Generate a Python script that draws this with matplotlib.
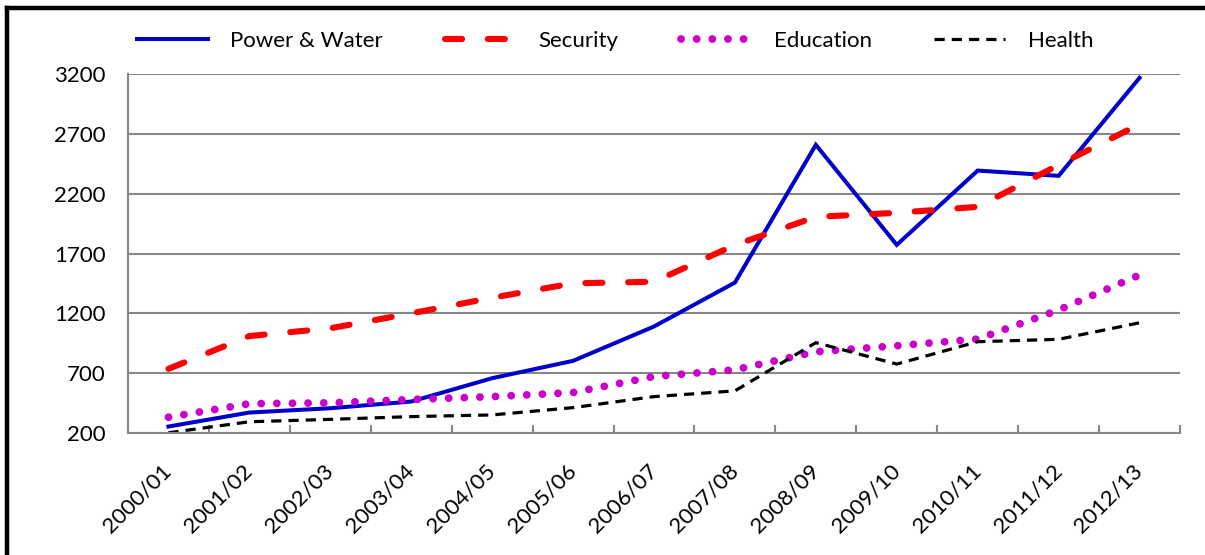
import matplotlib.pyplot as plt
from matplotlib.lines import Line2D
import numpy as np

plt.rcParams['font.family'] = ['Lato', 'DejaVu Sans']

years = ['2000/01', '2001/02', '2002/03', '2003/04', '2004/05', '2005/06', '2006/07',
         '2007/08', '2008/09', '2009/10', '2010/11', '2011/12', '2012/13']
power_water = [254, 371, 407, 463, 658, 803, 1090, 1457, 2608, 1772, 2393, 2349, 3168]
security = [736, 1010, 1075, 1200, 1330, 1451, 1464, 1771, 2006, 2040, 2090, 2440, 2780]
education = [332, 445, 452, 480, 504, 538, 672, 728, 879, 929, 985, 1228, 1520]
health = [202, 294, 314, 337, 351, 412, 504, 552, 955, 776, 963, 983, 1121]
yticks = [200, 700, 1200, 1700, 2200, 2700, 3200]

W, H = 1205, 555
fig = plt.figure(figsize=(W / 100, H / 100), dpi=100)
ax = fig.add_axes([128 / W, 1 - 433 / H, (1180 - 128) / W, (433 - 74) / H])

x = np.arange(len(years))
ax.plot(x, power_water, color='#0000CC', lw=2.9, solid_joinstyle='miter',
        label='Power & Water')
ax.plot(x, security, color='#FF0000', lw=4.4, dashes=(2.8, 4.2),
        dash_capstyle='round', label='Security')
ax.plot(x, education, color='#CC00CC', lw=5.6, dashes=(0.01, 2.0),
        dash_capstyle='round', label='Education')
ax.plot(x, health, color='black', lw=2.3, dashes=(3.2, 2.2), label='Health')

ax.set_xlim(-0.5, len(years) - 0.5)
ax.set_ylim(200, 3200)
ax.set_yticks(yticks)
ax.set_yticklabels([str(v) for v in yticks], fontsize=16)
ax.tick_params(axis='y', length=0, pad=16)
ax.yaxis.grid(True, color='#878787', lw=1.5)
ax.set_axisbelow(True)

# category labels at centres, tick marks at the boundaries
ax.set_xticks(x)
ax.set_xticklabels(years, fontsize=16, rotation=45, ha='right', va='center',
                   rotation_mode='anchor')
ax.tick_params(axis='x', which='major', length=0, pad=25)
ax.set_xticks(np.arange(-0.5, len(years)), minor=True)
ax.tick_params(axis='x', which='minor', direction='in', length=6, width=1.5,
               color='#878787')

for side in ('top', 'right'):
    ax.spines[side].set_visible(False)
for side in ('left', 'bottom'):
    ax.spines[side].set_color('#878787')
    ax.spines[side].set_linewidth(1.5)

fig.legend(loc='center', bbox_to_anchor=(615 / W, 1 - 41 / H), ncol=4,
           frameon=False, fontsize=16, handlelength=3.2, handletextpad=1.0,
           columnspacing=2.8)

# outer frame
fx, fy = 7 / W, 1 - 8 / H
fig.add_artist(Line2D([fx, fx], [0, fy], color='black', lw=3.2, transform=fig.transFigure))
fig.add_artist(Line2D([fx, 1], [fy, fy], color='black', lw=3.2, transform=fig.transFigure))

fig.savefig('out.png', dpi=100)
